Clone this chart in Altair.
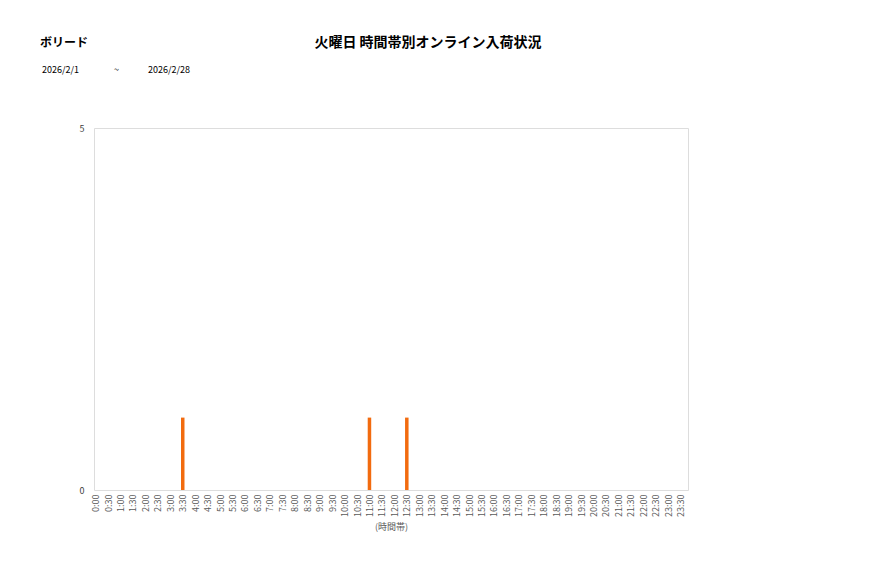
import altair as alt
import pandas as pd

times = [f"{h}:{m:02d}" for h in range(24) for m in (0, 30)]
values = [0] * 48
values[times.index("3:30")] = 1
values[times.index("11:00")] = 1
values[times.index("12:30")] = 1

store_name = "ボリード"
chart_title = "火曜日 時間帯別オンライン入荷状況"
date_from = "2026/2/1"
date_sep = "~"
date_to = "2026/2/28"

df = pd.DataFrame({"time": times, "value": values})

FONT = "Noto Sans CJK JP"

bars = alt.Chart(df).mark_bar(width=3.5, color="#F26B0F").encode(
    x=alt.X(
        "time:N",
        sort=times,
        scale=alt.Scale(type="point", padding=0.36, align=0.18),
        axis=alt.Axis(
            title="(時間帯)",
            titleFont=FONT,
            titleFontSize=9,
            titleFontWeight="normal",
            titleColor="#595959",
            titlePadding=6,
            labelAngle=-90,
            labelFont=FONT,
            labelFontSize=9,
            labelColor="#595959",
            labelPadding=4,
            ticks=False,
            domain=False,
            labelOverlap=False,
        ),
    ),
    y=alt.Y(
        "value:Q",
        scale=alt.Scale(domain=[0, 5], nice=False),
        axis=alt.Axis(
            title=None,
            values=[0, 5],
            grid=False,
            ticks=False,
            domain=False,
            labelFont=FONT,
            labelFontSize=9,
            labelColor="#404040",
            labelPadding=10,
        ),
    ),
)


def text_layer(txt, px, py, size, weight="normal", align="left"):
    return alt.Chart(pd.DataFrame({"t": [txt]})).mark_text(
        align=align, baseline="middle", font=FONT, fontSize=size,
        fontWeight=weight, color="#000000",
    ).encode(text="t:N", x=alt.value(px), y=alt.value(py))


title = text_layer(chart_title, 334, -85, 14, "bold", align="center")
store = text_layer(store_name, -54, -85, 12, "bold")
d1 = text_layer(date_from, -52, -58, 9)
sep = text_layer(date_sep, 20, -58, 9)
d2 = text_layer(date_to, 54, -58, 9)

chart = alt.layer(bars, title, store, d1, sep, d2).properties(
    width=594,
    height=362,
    autosize=alt.AutoSizeParams(type="none"),
    padding={"left": 86, "top": 120, "right": 170, "bottom": 80},
).configure_view(
    stroke="#d9d9d9",
    strokeWidth=1,
).configure(background="#ffffff")

chart.save("out.html", embed_options={"renderer": "svg", "actions": False})
